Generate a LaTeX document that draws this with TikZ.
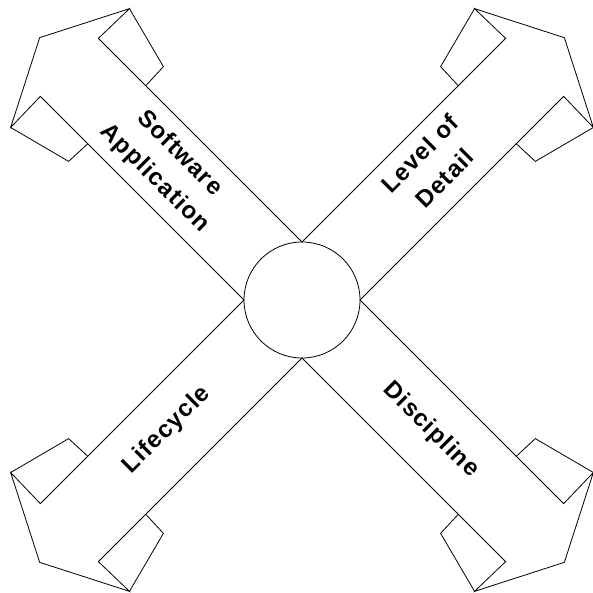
\documentclass[tikz,border=0pt]{standalone}
\usepackage{fontspec}
\setmainfont{Liberation Sans}
\newfontfamily\lblfont[LetterSpace=5]{Liberation Sans}
\begin{document}
\begin{tikzpicture}[x=1pt,y=-1pt,line width=0.8pt,line join=miter,
  lbl/.style={font=\lblfont\fontsize{24}{35}\selectfont\bfseries,align=center,inner sep=0pt}]
\useasboundingbox (0,0) rectangle (593,593);
\coordinate (C) at (302,300);
\node[circle,draw,minimum size=116pt,inner sep=0pt] (hub) at (C) {};
\foreach \a in {135,45,225,-45} {
  \begin{scope}[shift={(C)},rotate=\a]
    \draw (41,41) -- (329,41) -- (328,84) -- (371,0) -- (328,-84) -- (329,-41) -- (41,-41);
    \draw (262,41) -- (263,67) -- (328,84);
    \draw (262,-41) -- (263,-67) -- (328,-84);
  \end{scope}
}
\node[lbl,rotate=-45] (sw) at (167,166) {Software\\Application};
\node[lbl,rotate=45] (lod) at (432,166) {Level of\\Detail};
\node[lbl,rotate=45] (lc) at (167,430) {Lifecycle};
\node[lbl,rotate=-45] (dis) at (431,430) {Discipline};
\end{tikzpicture}
\end{document}
